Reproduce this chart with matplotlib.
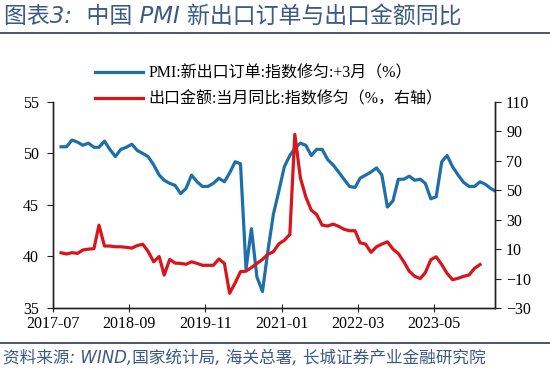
import matplotlib
matplotlib.use("Agg")
import matplotlib.pyplot as plt
import matplotlib.dates as mdates
import pandas as pd

plt.rcParams['font.family'] = ['Liberation Serif', 'Noto Sans CJK SC', 'DejaVu Sans']

# PMI新出口订单(指数修匀, +3月), 左轴; 2017-07 起按月
pmi = [50.65, 50.65, 51.3, 51.1, 50.8, 51.0, 50.6, 50.6, 51.2, 50.4,
       49.7, 50.4, 50.6, 50.9, 50.3, 50.0, 49.7, 48.9, 47.9, 47.4,
       47.1, 46.9, 46.1, 46.6, 47.9, 47.25, 46.8, 46.8, 47.1, 47.6,
       47.25, 48.1, 49.2, 49.0, 38.8, 42.7, 38.0, 36.6, 40.5, 44.1,
       46.3, 48.7, 49.8, 50.5, 51.0, 50.8, 49.8, 50.4, 50.4, 49.4,
       48.9, 48.2, 47.5, 46.8, 46.7, 47.6, 47.9, 48.2, 48.6, 47.9,
       44.8, 45.4, 47.5, 47.5, 47.8, 47.4, 47.5, 47.1, 45.6, 45.8,
       49.2, 49.8, 48.7, 47.9, 47.2, 46.8, 46.8, 47.25, 47.0, 46.6,
       46.3]
# 出口金额当月同比(指数修匀), 右轴
export_yoy = [7.5, 6.7, 7.6, 7.1, 9.4, 10.0, 10.3, 26.3, 12.1, 12.1,
              11.6, 11.6, 11.2, 10.7, 12.4, 13.3, 8.5, 1.4, 5.0, -7.6,
              3.0, 0.5, 0.3, -0.3, 1.4, 0.3, -1.0, -1.0, -1.0, 3.3,
              0.3, -20.0, -13.0, -5.3, -5.0, -2.5, 0.3, 3.0, 6.5, 8.2,
              13.5, 16.0, 20.0, 88.0, 58.5, 45.6, 36.5, 33.5, 26.3, 25.7,
              27.0, 25.5, 23.5, 22.5, 22.5, 14.3, 13.4, 7.8, 11.6, 13.4,
              15.0, 10.0, 7.0, 1.4, -5.0, -8.5, -10.0, -6.0, 2.8, 4.8,
              -0.5, -6.5, -10.8, -9.8, -8.5, -7.6, -3.1, -0.5]

labels = ['PMI:新出口订单:指数修匀:+3月（%）', '出口金额:当月同比:指数修匀（%，右轴）']

dates_pmi = pd.date_range('2017-07-15', periods=len(pmi), freq='MS') + pd.Timedelta(days=14)
dates_exp = pd.date_range('2017-07-15', periods=len(export_yoy), freq='MS') + pd.Timedelta(days=14)
ticks = pd.date_range('2017-07-01', '2023-05-01', freq='14MS')

blue = '#1c6fa8'
red = '#d9141b'
ttl = '#3b5a86'

fig = plt.figure(figsize=(5.5, 3.7), dpi=100)
ax = fig.add_axes([0.0964, 0.1676, 0.8036, 0.5568])
ax2 = ax.twinx()

l1, = ax.plot(dates_pmi, pmi, color=blue, lw=2.3, label=labels[0])
l2, = ax2.plot(dates_exp, export_yoy, color=red, lw=2.3, label=labels[1])

ax.set_ylim(35, 55)
ax.set_yticks(range(35, 56, 5))
ax2.set_ylim(-30, 110)
ax2.set_yticks(range(-30, 111, 20))
ax.set_xlim(pd.Timestamp('2017-07-01'), pd.Timestamp('2024-04-08'))
ax.set_xticks(ticks)
ax.xaxis.set_major_formatter(mdates.DateFormatter('%Y-%m'))

for a in (ax, ax2):
    a.spines['top'].set_visible(False)
    for s in a.spines.values():
        s.set_color('#222222')
        s.set_linewidth(1.0)
ax.tick_params(axis='y', direction='out', length=4, labelsize=11.5, color='#222222', pad=6)
ax2.tick_params(axis='y', direction='out', length=4, labelsize=11.5, color='#222222', pad=4)
ax.tick_params(axis='x', direction='inout', length=6, labelsize=11.5, color='#222222', pad=3)

fig.legend(handles=[l1, l2], loc='upper left', bbox_to_anchor=(0.162, 0.84),
           frameon=False, fontsize=11.5, handlelength=3.0, handletextpad=0.3,
           labelspacing=0.6, borderaxespad=0)

# 标题与来源
fig.text(0.008, 0.955, '图表3:  中国 PMI 新出口订单与出口金额同比', fontsize=16.5,
         style='italic', color=ttl, va='center', ha='left',
         family=['DejaVu Sans', 'Noto Sans CJK SC'])
fig.add_artist(plt.Line2D([0, 1], [0.91, 0.91], color='#3a4a60', lw=1.3))
fig.add_artist(plt.Line2D([0, 1], [0.073, 0.073], color='#3a4a60', lw=1.3))
fig.text(0.005, 0.033, '资料来源: WIND,国家统计局, 海关总署, 长城证券产业金融研究院', fontsize=12,
         style='italic', color=ttl, va='center', ha='left',
         family=['DejaVu Sans', 'Noto Sans CJK SC'])

fig.savefig('out.png', dpi=100)
